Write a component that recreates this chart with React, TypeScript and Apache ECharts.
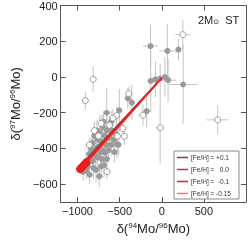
import React, { useEffect, useRef } from "react";
import * as echarts from "echarts";

// [x, y, xErr, yErr]
const filledPoints: number[][] = [
  [-134, 173, 90, 120], [67, 146, 100, 150], [198, 153, 30, 60], [-131, -22, 50, 170],
  [-75, -13, 80, 100], [-19, -9, 60, 80], [37, 0, 60, 110], [75, -18, 100, 120],
  [254, -42, 170, 220], [-179, -191, 60, 90], [-403, -120, 40, 60], [-355, -143, 40, 100],
  [-504, -186, 30, 120], [-653, -200, 40, 140],
  [-530, -377, 40, 80], [-512, -379, 30, 60], [-540, -320, 40, 60], [-590, -300, 40, 70],
  [-620, -340, 40, 80], [-600, -380, 40, 60], [-650, -300, 40, 90], [-680, -330, 50, 80],
  [-700, -280, 40, 70], [-720, -360, 40, 80], [-740, -310, 40, 90], [-760, -350, 50, 70],
  [-780, -400, 40, 80], [-800, -330, 40, 80], [-820, -370, 40, 70], [-840, -400, 40, 60],
  [-860, -430, 40, 60], [-672, -423, 40, 80], [-653, -459, 40, 70], [-686, -493, 40, 70],
  [-780, -520, 40, 70], [-742, -556, 40, 60], [-856, -547, 40, 50], [-896, -522, 40, 50],
  [-933, -531, 40, 50], [-820, -470, 40, 60], [-760, -450, 40, 80], [-700, -410, 40, 60],
  [-870, -480, 40, 60], [-900, -470, 40, 50], [-830, -420, 40, 70], [-790, -440, 40, 60],
  [-750, -390, 40, 70], [-730, -420, 40, 60], [-710, -460, 40, 70], [-660, -380, 40, 80],
  [-630, -410, 40, 70], [-570, -350, 40, 60], [-560, -420, 40, 60], [-880, -500, 40, 50],
  [-810, -510, 40, 60], [-720, -500, 40, 60], [-770, -300, 40, 60], [-690, -250, 40, 60],
  [-600, -250, 40, 60],
];

const openPoints: number[][] = [
  [250, 237, 90, 80], [664, -240, 130, 80], [-19, -284, 50, 200], [-224, -214, 40, 60],
  [-392, -93, 30, 40], [-814, -13, 20, 70], [-907, -132, 45, 50], [-537, -216, 30, 50],
  [-462, -288, 30, 50], [-444, -332, 30, 50], [-526, -331, 30, 50], [-650, -530, 30, 40],
  [-800, -300, 30, 50], [-720, -260, 30, 50], [-620, -270, 30, 50], [-860, -380, 30, 40],
  [-750, -330, 30, 40], [-580, -230, 30, 50],
];

const lineFeP01 = [[-985, -505], [0, -5]];
const lineFe00 = [[-980, -515], [0, -5]];
const lineFeM01 = [[-975, -520], [0, -5]];
const lineFeM015 = [[-970, -528], [0, -5]];
const blobLine = [[-968, -515], [-898, -480]];

const legendNames = ["[Fe/H] = +0.1", "[Fe/H] =   0.0", "[Fe/H] =  -0.1", "[Fe/H] = -0.15"];
const legendColors = ["#8b3a3a", "#c83232", "#e83030", "#ff7070"];

const xTicks = [-1000, -500, 0, 500];
const yTicks = [-600, -400, -200, 0, 200, 400];

const FONT = "Liberation Sans, Arial, sans-serif";
const AXC = "#555";

const fmt = (v: number) => String(v).replace("-", "\u2212");

export default function App() {
  const ref = useRef<HTMLDivElement>(null);
  useEffect(() => {
    if (!ref.current) return;
    const chart = echarts.init(ref.current, undefined, { renderer: "svg" });
    const errSeries = (data: number[][]) => ({
      type: "custom",
      xAxisIndex: 0,
      yAxisIndex: 0,
      clip: true,
      silent: true,
      z: 1,
      data,
      renderItem: (_p: any, api: any) => {
        const x = api.value(0), y = api.value(1), xe = api.value(2), ye = api.value(3);
        const a = api.coord([x - xe, y]), b = api.coord([x + xe, y]);
        const c = api.coord([x, y - ye]), d = api.coord([x, y + ye]);
        const st = { stroke: "#c4c4c4", lineWidth: 1 };
        return {
          type: "group",
          children: [
            { type: "line", shape: { x1: a[0], y1: a[1], x2: b[0], y2: b[1] }, style: st },
            { type: "line", shape: { x1: c[0], y1: c[1], x2: d[0], y2: d[1] }, style: st },
          ],
        };
      },
    });
    const axisCommon = {
      type: "value",
      splitLine: { show: false },
      axisLine: { show: true, onZero: false, lineStyle: { color: AXC, width: 1 } },
    };
    const lineS = (name: string, data: number[][], color: string, z: number) => ({
      name,
      type: "line",
      data,
      symbol: "none",
      z,
      lineStyle: { color, width: 1.5 },
      itemStyle: { color },
    });
    chart.setOption({
      animation: false,
      grid: { left: 47.5, right: 3, top: 5, bottom: 29 },
      xAxis: [
        {
          ...axisCommon,
          min: -1200,
          max: 1000,
          position: "bottom",
          axisTick: { show: true, inside: true, length: 5, customValues: xTicks, lineStyle: { color: AXC } },
          axisLabel: { customValues: xTicks, formatter: fmt, fontSize: 11, color: "#222", fontFamily: FONT, margin: 3 },
          name: "{n|δ(}{s|94}{n|Mo/}{s|96}{n|Mo)}",
          nameLocation: "middle",
          nameGap: 11,
          nameTextStyle: {
            rich: {
              n: { fontSize: 13, fontFamily: FONT, color: "#222" },
              s: { fontSize: 8, fontFamily: FONT, color: "#222", padding: [0, 0, 7, 0] },
            },
          },
        },
        {
          ...axisCommon,
          min: -1200,
          max: 1000,
          position: "top",
          axisTick: { show: true, inside: true, length: 5, customValues: xTicks, lineStyle: { color: AXC } },
          axisLabel: { show: false },
        },
      ],
      yAxis: [
        {
          ...axisCommon,
          min: -700,
          max: 400,
          position: "left",
          axisTick: { show: true, inside: true, length: 5, customValues: yTicks, lineStyle: { color: AXC } },
          axisLabel: { customValues: yTicks, formatter: fmt, fontSize: 11, color: "#222", fontFamily: FONT, margin: 3 },
          name: "{n|δ(}{s|97}{n|Mo/}{s|96}{n|Mo)}",
          nameLocation: "middle",
          nameGap: 33,
          nameRotate: 90,
          nameTextStyle: {
            rich: {
              n: { fontSize: 13, fontFamily: FONT, color: "#222" },
              s: { fontSize: 8, fontFamily: FONT, color: "#222", padding: [0, 0, 7, 0] },
            },
          },
        },
        {
          ...axisCommon,
          min: -700,
          max: 400,
          position: "right",
          axisTick: { show: true, inside: true, length: 5, customValues: yTicks, lineStyle: { color: AXC } },
          axisLabel: { show: false },
        },
      ],
      legend: {
        orient: "vertical",
        left: 177,
        top: 153.5,
        padding: 0,
        itemGap: 4,
        itemWidth: 11,
        itemHeight: 1.5,
        icon: "rect",
        data: legendNames,
        textStyle: { fontSize: 6.5, lineHeight: 8, fontFamily: FONT, color: "#333", padding: [0, 0, 0, -2] },
        z: 10,
      },
      graphic: [
        {
          type: "rect",
          shape: { x: 174, y: 151, width: 65, height: 48 },
          style: { fill: "#fff", stroke: "#888", lineWidth: 1 },
          z: 5,
        },
        {
          type: "text",
          left: 198,
          top: 14,
          style: {
            text: "{a|2M}{b|⊙}{a|  ST}",
            rich: {
              a: { fontSize: 11, fontFamily: FONT, fill: "#222" },
              b: { fontSize: 7, fontFamily: "DejaVu Sans", fill: "#222", padding: [5, 0, 0, 0] },
            },
          },
          z: 10,
        },
      ],
      series: [
        errSeries(filledPoints),
        errSeries(openPoints),
        {
          type: "scatter",
          data: filledPoints.map((p) => [p[0], p[1]]),
          symbolSize: 6,
          z: 2,
          itemStyle: { color: "#9a9a9a", opacity: 1 },
        },
        {
          type: "scatter",
          data: openPoints.map((p) => [p[0], p[1]]),
          symbolSize: 6,
          z: 2,
          itemStyle: { color: "#fff", borderColor: "#9a9a9a", borderWidth: 1, opacity: 1 },
        },
        lineS(legendNames[0], lineFeP01, legendColors[0], 3),
        lineS(legendNames[1], lineFe00, legendColors[1], 3),
        lineS(legendNames[3], lineFeM015, legendColors[3], 3),
        lineS(legendNames[2], lineFeM01, "#ee1c1c", 4),
        {
          type: "line",
          data: blobLine,
          symbol: "none",
          z: 4,
          lineStyle: { color: "#ee1c1c", width: 8, cap: "round" },
        },
      ],
    });
    return () => chart.dispose();
  }, []);
  return <div ref={ref} style={{ position: "fixed", left: 0, top: 0, width: 249, height: 240 }} />;
}
